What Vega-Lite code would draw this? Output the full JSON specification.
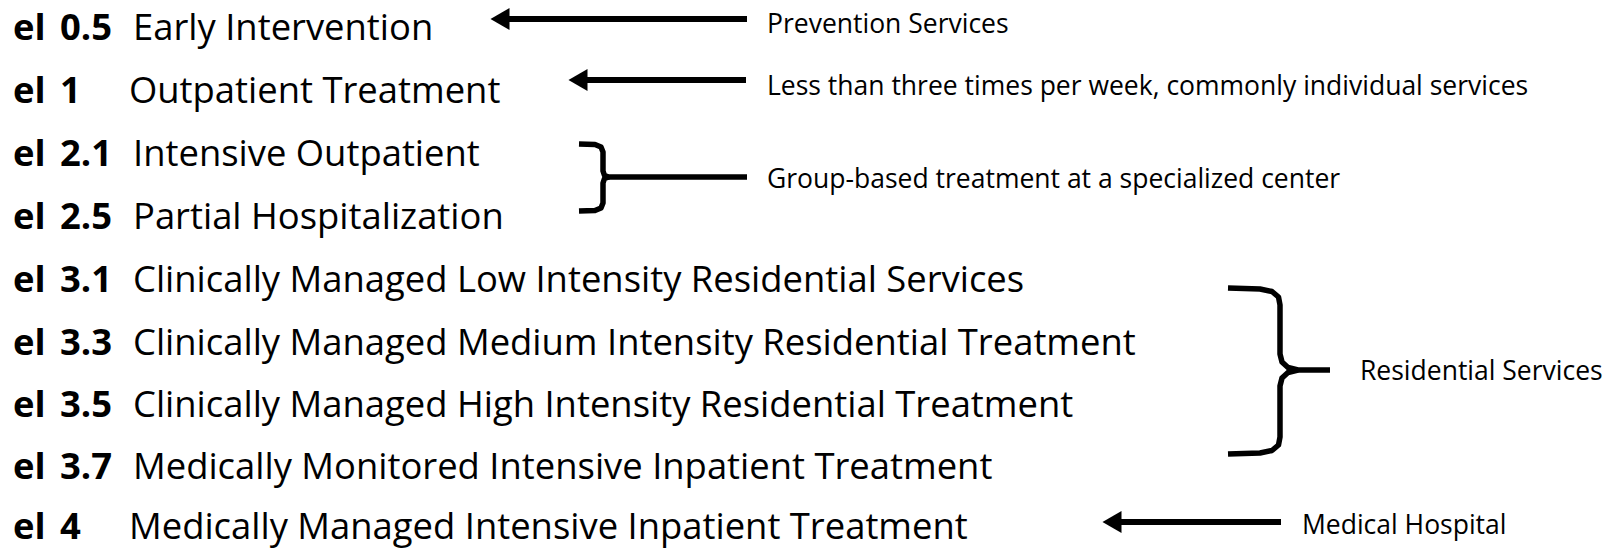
{
  "$schema": "https://vega.github.io/schema/vega-lite/v6.json",
  "width": 1612,
  "height": 550,
  "padding": 0,
  "autosize": "none",
  "background": "#ffffff",
  "config": {"view": {"stroke": null}},
  "datasets": {
    "levels": [
      {"level": "0.5", "name": "Early Intervention", "y": 28.5, "nx": 133},
      {"level": "1", "name": "Outpatient Treatment", "y": 91.5, "nx": 129},
      {"level": "2.1", "name": "Intensive Outpatient", "y": 154.5, "nx": 133},
      {"level": "2.5", "name": "Partial Hospitalization", "y": 217.5, "nx": 133},
      {"level": "3.1", "name": "Clinically Managed Low Intensity Residential Services", "y": 280.5, "nx": 133},
      {"level": "3.3", "name": "Clinically Managed Medium Intensity Residential Treatment", "y": 343.5, "nx": 133},
      {"level": "3.5", "name": "Clinically Managed High Intensity Residential Treatment", "y": 406, "nx": 133},
      {"level": "3.7", "name": "Medically Monitored Intensive Inpatient Treatment", "y": 468, "nx": 133},
      {"level": "4", "name": "Medically Managed Intensive Inpatient Treatment", "y": 528, "nx": 129}
    ],
    "notes": [
      {"note": "Prevention Services", "x": 767, "y": 25},
      {"note": "Less than three times per week, commonly individual services", "x": 767, "y": 87},
      {"note": "Group-based treatment at a specialized center", "x": 767, "y": 180},
      {"note": "Residential Services", "x": 1360, "y": 372},
      {"note": "Medical Hospital", "x": 1302, "y": 526}
    ],
    "arrows": [
      {"id": "a1", "tail": 747, "head": 498, "tip": 500, "y": 19},
      {"id": "a2", "tail": 746, "head": 576, "tip": 578, "y": 80},
      {"id": "a3", "tail": 1281, "head": 1110, "tip": 1112, "y": 522}
    ],
    "brackets": [
      {"part": "b1top", "o": 1, "x": 579, "y": 144},
      {"part": "b1top", "o": 2, "x": 595, "y": 144.5},
      {"part": "b1top", "o": 3, "x": 601, "y": 147},
      {"part": "b1top", "o": 4, "x": 603, "y": 152},
      {"part": "b1top", "o": 5, "x": 603, "y": 171},
      {"part": "b1top", "o": 6, "x": 604.5, "y": 175.5},
      {"part": "b1top", "o": 7, "x": 609, "y": 177},
      {"part": "b1top", "o": 8, "x": 747, "y": 177},
      {"part": "b1bot", "o": 1, "x": 609, "y": 177},
      {"part": "b1bot", "o": 2, "x": 604.5, "y": 178.5},
      {"part": "b1bot", "o": 3, "x": 603, "y": 183},
      {"part": "b1bot", "o": 4, "x": 603, "y": 203},
      {"part": "b1bot", "o": 5, "x": 601, "y": 208},
      {"part": "b1bot", "o": 6, "x": 595, "y": 210.5},
      {"part": "b1bot", "o": 7, "x": 579, "y": 211},
      {"part": "b2top", "o": 1, "x": 1228, "y": 288},
      {"part": "b2top", "o": 2, "x": 1260, "y": 289},
      {"part": "b2top", "o": 3, "x": 1272, "y": 291.5},
      {"part": "b2top", "o": 4, "x": 1278.5, "y": 297},
      {"part": "b2top", "o": 5, "x": 1280, "y": 305},
      {"part": "b2top", "o": 6, "x": 1280, "y": 354},
      {"part": "b2top", "o": 7, "x": 1282, "y": 362},
      {"part": "b2top", "o": 8, "x": 1288, "y": 367.5},
      {"part": "b2top", "o": 9, "x": 1298, "y": 370},
      {"part": "b2top", "o": 10, "x": 1330, "y": 370},
      {"part": "b2bot", "o": 1, "x": 1298, "y": 370},
      {"part": "b2bot", "o": 2, "x": 1288, "y": 372.5},
      {"part": "b2bot", "o": 3, "x": 1282, "y": 378},
      {"part": "b2bot", "o": 4, "x": 1280, "y": 386},
      {"part": "b2bot", "o": 5, "x": 1280, "y": 437},
      {"part": "b2bot", "o": 6, "x": 1278.5, "y": 445},
      {"part": "b2bot", "o": 7, "x": 1272, "y": 450.5},
      {"part": "b2bot", "o": 8, "x": 1260, "y": 453},
      {"part": "b2bot", "o": 9, "x": 1228, "y": 454}
    ]
  },
  "layer": [
    {
      "data": {"name": "levels"},
      "mark": {"type": "text", "font": "Open Sans", "fontSize": 36.4, "fontWeight": "bold", "align": "left", "baseline": "middle", "color": "#000000"},
      "encoding": {
        "x": {"datum": 13, "type": "quantitative", "scale": {"domain": [0, 1612], "nice": false, "zero": false}, "axis": null},
        "y": {"field": "y", "type": "quantitative", "scale": {"domain": [0, 550], "nice": false, "zero": false, "reverse": true}, "axis": null},
        "text": {"value": "el"}
      }
    },
    {
      "data": {"name": "levels"},
      "mark": {"type": "text", "font": "Open Sans", "fontSize": 36.4, "fontWeight": "bold", "align": "left", "baseline": "middle", "color": "#000000"},
      "encoding": {
        "x": {"datum": 60, "type": "quantitative"},
        "y": {"field": "y", "type": "quantitative"},
        "text": {"field": "level"}
      }
    },
    {
      "data": {"name": "levels"},
      "mark": {"type": "text", "font": "Open Sans", "fontSize": 36.4, "align": "left", "baseline": "middle", "color": "#000000"},
      "encoding": {
        "x": {"field": "nx", "type": "quantitative"},
        "y": {"field": "y", "type": "quantitative"},
        "text": {"field": "name"}
      }
    },
    {
      "data": {"name": "notes"},
      "mark": {"type": "text", "font": "Open Sans", "fontSize": 26.5, "align": "left", "baseline": "middle", "color": "#000000"},
      "encoding": {
        "x": {"field": "x", "type": "quantitative"},
        "y": {"field": "y", "type": "quantitative"},
        "text": {"field": "note"}
      }
    },
    {
      "data": {"name": "arrows"},
      "mark": {"type": "rule", "strokeWidth": 6, "color": "#000000", "strokeCap": "butt"},
      "encoding": {
        "x": {"field": "tail", "type": "quantitative"},
        "x2": {"field": "head"},
        "y": {"field": "y", "type": "quantitative"}
      }
    },
    {
      "data": {"name": "arrows"},
      "mark": {"type": "point", "shape": "triangle-left", "size": 484, "filled": true, "color": "#000000", "opacity": 1},
      "encoding": {
        "x": {"field": "tip", "type": "quantitative"},
        "y": {"field": "y", "type": "quantitative"}
      }
    },
    {
      "data": {"name": "brackets"},
      "mark": {"type": "line", "strokeWidth": 5.5, "color": "#000000", "strokeJoin": "round", "strokeCap": "butt", "interpolate": "linear"},
      "encoding": {
        "x": {"field": "x", "type": "quantitative"},
        "y": {"field": "y", "type": "quantitative"},
        "detail": {"field": "part"},
        "order": {"field": "o", "type": "quantitative"}
      }
    }
  ]
}
